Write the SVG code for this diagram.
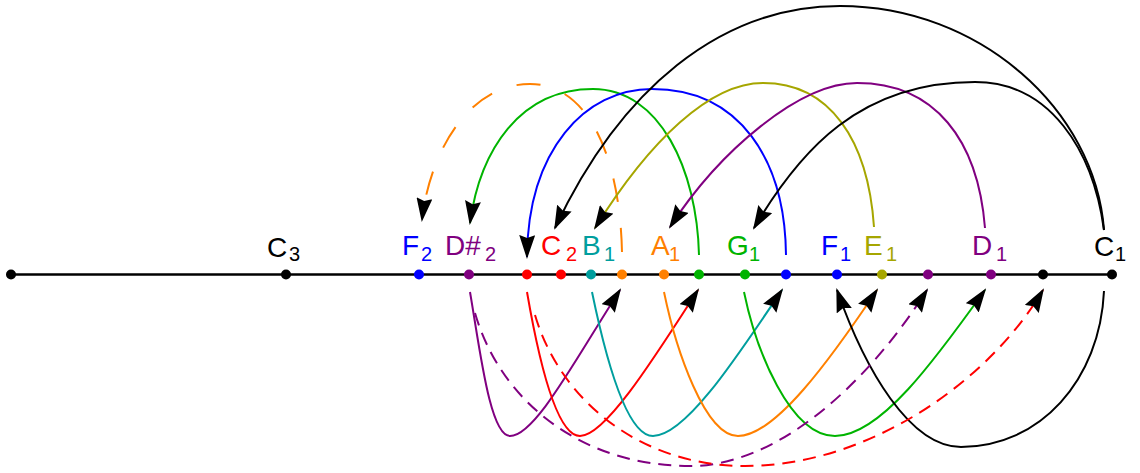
<svg xmlns="http://www.w3.org/2000/svg" width="1140" height="473" viewBox="0 0 1140 473">
<style>
.c{fill:none;stroke-width:2}
.du{stroke-dasharray:24 26}
.dl{stroke-dasharray:13 8}
.lb{font-family:"Liberation Sans",Arial,sans-serif;font-size:28px}
.sb{font-size:20px}
.k{stroke:#000}.kf{fill:#000}
.bl{stroke:#0000ff}.blf{fill:#0000ff}
.pu{stroke:#800080}.puf{fill:#800080}
.rd{stroke:#ff0000}.rdf{fill:#ff0000}
.te{stroke:#009e9e}.tef{fill:#009e9e}
.or{stroke:#ff8000}.orf{fill:#ff8000}
.gr{stroke:#00b400}.grf{fill:#00b400}
.ol{stroke:#a6a600}.olf{fill:#a6a600}
</style>
<defs>
<marker id="ah" markerUnits="userSpaceOnUse" markerWidth="24" markerHeight="16" viewBox="0 0 24 16" refX="22" refY="8" orient="auto">
<path d="M0,0 L24,8 L0,16 L3,8 z" fill="#000"/>
</marker>
</defs>
<g id="connectors" marker-end="url(#ah)">
<path class="c or du" d="M622,252 C620,160 590,84 530,84 C470,84 430,150 422,220"/>
<path class="c gr" d="M699,255 C697,170 660,89 593,89 C520,89 480,150 470,223"/>
<path class="c bl" d="M786,255 C785,160 740,89 652,89 C585,89 528,150 527,257"/>
<path class="c k" d="M1104,230 C1095,110 980,6 840,6 C720,6 620,90 555,228"/>
<path class="c ol" d="M874,227 C868,140 830,83 763,83 C710,83 650,140 595,228"/>
<path class="c pu" d="M985,228 C978,140 935,83 857,83 C800,83 720,150 670,227"/>
<path class="c k" d="M1104,230 C1093,150 1050,82 975,82 C860,82 800,150 754,228"/>
<path class="c pu" d="M470,292 C480,350 490,436 510,436 C535,436 575,360 620,290"/>
<path class="c rd" d="M527,292 C537,350 555,436 580,436 C605,436 653,360 698,290"/>
<path class="c te" d="M592,292 C604,350 625,436 653,436 C685,436 735,360 782,290"/>
<path class="c or" d="M664,292 C676,350 705,436 738,436 C775,436 830,360 877,290"/>
<path class="c gr" d="M744,292 C756,350 790,436 835,436 C880,436 935,360 985,290"/>
<path class="c k" d="M1104,291 C1100,380 1040,447 961,447 C910,447 865,370 837,290"/>
<path class="c pu dl" d="M475,313 C500,400 580,466 690,466 C780,466 870,380 927,290"/>
<path class="c rd dl" d="M535,315 C560,400 640,466 745,466 C870,466 990,380 1043,290"/>
</g>
<g id="axis">
<line x1="11" y1="274.5" x2="1112" y2="274.5" stroke="#000" stroke-width="2.5"/>
</g>
<g id="n0"><circle cx="11" cy="274.5" r="5" class="kf"/></g>
<g id="C3"><circle cx="286" cy="274.5" r="5" class="kf"/><text class="lb kf" x="267" y="257">C<tspan class="sb" x="289" y="261">3</tspan></text></g>
<g id="F2"><circle cx="419" cy="274.5" r="5" class="blf"/><text class="lb blf" x="402" y="255">F<tspan class="sb" x="421" y="261">2</tspan></text></g>
<g id="Ds2"><circle cx="469" cy="274.5" r="5" class="puf"/><text class="lb puf" x="445" y="255">D#<tspan class="sb" x="485" y="261">2</tspan></text></g>
<g id="n_r1"><circle cx="527" cy="274.5" r="5" class="rdf"/></g>
<g id="C2"><circle cx="561" cy="274.5" r="5" class="rdf"/><text class="lb rdf" x="541" y="255">C<tspan class="sb" x="566" y="261">2</tspan></text></g>
<g id="B1"><circle cx="591" cy="274.5" r="5" class="tef"/><text class="lb tef" x="582" y="255">B<tspan class="sb" x="604" y="261">1</tspan></text></g>
<g id="n_o1"><circle cx="622" cy="274.5" r="5" class="orf"/></g>
<g id="A1"><circle cx="664" cy="274.5" r="5" class="orf"/><text class="lb orf" x="651" y="254.5">A<tspan class="sb" x="669" y="261">1</tspan></text></g>
<g id="n_g1"><circle cx="699" cy="274.5" r="5" class="grf"/></g>
<g id="G1"><circle cx="745" cy="274.5" r="5" class="grf"/><text class="lb grf" x="727" y="255">G<tspan class="sb" x="749" y="261">1</tspan></text></g>
<g id="n_b1"><circle cx="786" cy="274.5" r="5" class="blf"/></g>
<g id="F1"><circle cx="837" cy="274.5" r="5" class="blf"/><text class="lb blf" x="821" y="255">F<tspan class="sb" x="840" y="261">1</tspan></text></g>
<g id="E1"><circle cx="882" cy="274.5" r="5" class="olf"/><text class="lb olf" x="864" y="255">E<tspan class="sb" x="886" y="261">1</tspan></text></g>
<g id="n_p1"><circle cx="928" cy="274.5" r="5" class="puf"/></g>
<g id="D1"><circle cx="991" cy="274.5" r="5" class="puf"/><text class="lb puf" x="972" y="255">D<tspan class="sb" x="996" y="261">1</tspan></text></g>
<g id="n_k1"><circle cx="1043" cy="274.5" r="5" class="kf"/></g>
<g id="C1"><circle cx="1112" cy="274.5" r="5" class="kf"/><text class="lb kf" x="1094" y="256">C<tspan class="sb" x="1115" y="261">1</tspan></text></g>
</svg>
